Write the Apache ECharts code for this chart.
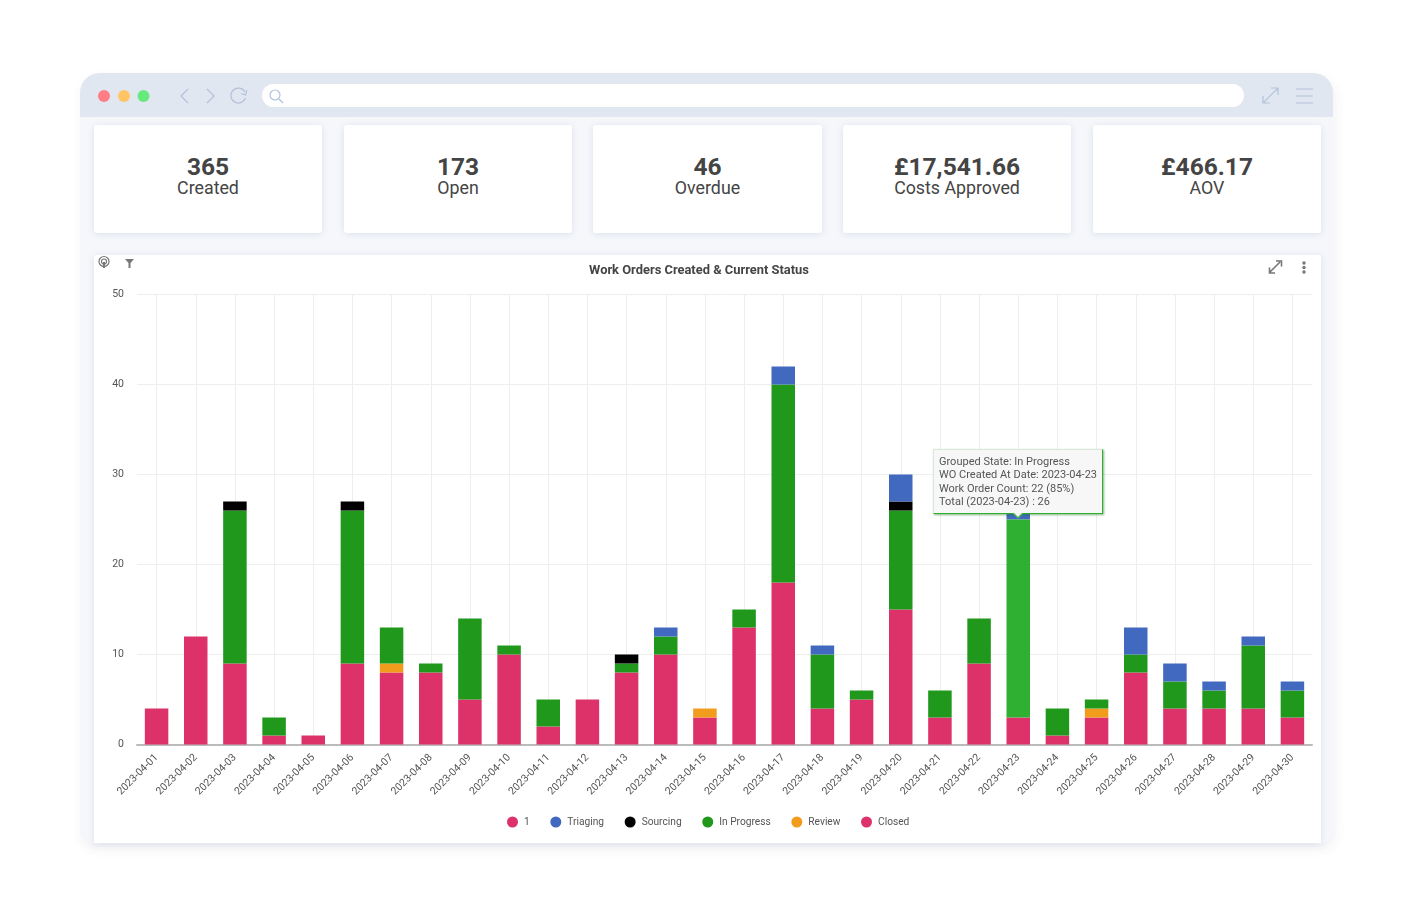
<!DOCTYPE html>
<html>
<head>
<meta charset="utf-8">
<title>Work Orders Created &amp; Current Status</title>
<script src="https://cdn.jsdelivr.net/npm/echarts@6/dist/echarts.min.js"></script>
<style>
html,body{margin:0;padding:0;background:#fff;width:1414px;height:916px;overflow:hidden;font-family:Roboto,sans-serif;}
.win{position:absolute;left:80px;top:73px;width:1253px;height:771px;background:#f5f7fb;border-radius:20px 20px 14px 14px;box-shadow:2px 5px 12px rgba(60,60,80,.07);}
.hdr{position:absolute;left:0;top:0;width:1253px;height:44px;background:#e1e7f1;border-radius:20px 20px 0 0;}
.url{position:absolute;left:182px;top:11px;width:982px;height:23px;background:#fff;border-radius:12px;}
.card{position:absolute;top:125px;height:108px;background:#fff;border-radius:3px;box-shadow:0 1px 7px rgba(110,120,160,.18);text-align:center;color:#444;}
.num{position:absolute;left:0;right:0;top:27px;font-size:24.500px;font-weight:700;line-height:30px;}
.lbl{position:absolute;left:0;right:0;top:52px;font-size:17.800px;line-height:22px;}
.panel{position:absolute;left:94px;top:255px;width:1227px;height:588px;background:#fff;border-radius:3px 3px 0 0;box-shadow:0 1px 7px rgba(110,120,160,.18);}
#chart{position:absolute;left:0;top:0;width:1227px;height:588px;}
svg.ic{position:absolute;overflow:visible;}
</style>
</head>
<body>
<div class="win"><div class="hdr"><div class="url"></div></div></div>
<svg class="ic" style="left:0;top:0" width="1414" height="120" fill="none" stroke="#b4c1da" stroke-width="1.2">
  <circle cx="104" cy="96" r="6" fill="#ff7e86" stroke="none"/>
  <circle cx="124" cy="96" r="6" fill="#ffc564" stroke="none"/>
  <circle cx="143.500" cy="96" r="6" fill="#66ea7e" stroke="none"/>
  <path d="M188 89l-7 7 7 7M207 89l7 7-7 7"/>
  <path d="M245 92a7.500 7.500 0 1 0 .5 6M247 90l-1.500 5-4.500-1.500"/>
  <circle cx="275" cy="95" r="5"/><path d="M279 99l4 4"/>
  <path d="M1263 103l15-15M1271 88h7v7M1263 96v7h7"/>
  <path d="M1296 89h17M1296 96h17M1296 103h17"/>
</svg>
<div id="cards"></div>
<div class="panel">
  <div id="chart"></div>
  <svg class="ic" style="left:0;top:0" width="1227" height="30" fill="none" stroke="#777" stroke-width="1.2">
    <circle cx="10" cy="6.500" r="5"/><circle cx="10" cy="6.500" r="2.500"/><path d="M10 7v6" stroke-width="2"/>
    <path d="M31 4h9l-3.500 4v5h-2V8z" fill="#777" stroke="none"/>
    <path d="M1176 17l10-10M1182 6h5.500v5.500M1175.500 12.500v5.500h5.500" stroke-width="1.600"/>
    <circle cx="1210" cy="8" r="1.700" fill="#777" stroke="none"/><circle cx="1210" cy="12.500" r="1.700" fill="#777" stroke="none"/><circle cx="1210" cy="17" r="1.700" fill="#777" stroke="none"/>
  </svg>
</div>
<script>
const kpiValues = ['365', '173', '46', '£17,541.66', '£466.17'];
const kpiLabels = ['Created', 'Open', 'Overdue', 'Costs Approved', 'AOV'];
const kpiLefts = [94, 344, 593, 843, 1093];

const dates = ['2023-04-01','2023-04-02','2023-04-03','2023-04-04','2023-04-05','2023-04-06','2023-04-07','2023-04-08','2023-04-09','2023-04-10','2023-04-11','2023-04-12','2023-04-13','2023-04-14','2023-04-15','2023-04-16','2023-04-17','2023-04-18','2023-04-19','2023-04-20','2023-04-21','2023-04-22','2023-04-23','2023-04-24','2023-04-25','2023-04-26','2023-04-27','2023-04-28','2023-04-29','2023-04-30'];
const closed     = [4,12,9,1,1,9,8,8,5,10,2,5,8,10,3,13,18,4,5,15,3,9,3,1,3,8,4,4,4,3];
const review     = [0,0,0,0,0,0,1,0,0,0,0,0,0,0,1,0,0,0,0,0,0,0,0,0,1,0,0,0,0,0];
const inProgress = [0,0,17,2,0,17,4,1,9,1,3,0,1,2,0,2,22,6,1,11,3,5,22,3,1,2,3,2,7,3];
const sourcing   = [0,0,1,0,0,1,0,0,0,0,0,0,1,0,0,0,0,0,0,1,0,0,0,0,0,0,0,0,0,0];
const triaging   = [0,0,0,0,0,0,0,0,0,0,0,0,0,1,0,0,2,1,0,3,0,0,1,0,0,3,2,1,1,1];
const unnamed    = [];
const legendOrder = ['1','Triaging','Sourcing','In Progress','Review','Closed'];
const yMax = 50, yStep = 10;
const tipDate = '2023-04-23';

const cardsEl = document.getElementById('cards');
kpiValues.forEach((v, i) => {
  const c = document.createElement('div');
  c.className = 'card';
  c.style.left = kpiLefts[i] + 'px';
  c.style.width = (i === 2 ? 229 : 228) + 'px';
  c.innerHTML = '<div class="num">' + v + '</div><div class="lbl">' + kpiLabels[i] + '</div>';
  cardsEl.appendChild(c);
});

const bar = (name, data, color, extra) => Object.assign({
  name, type: 'bar', stack: 'total', data: data.map(v => v === 0 ? null : v),
  barWidth: '60%', itemStyle: { color }, animation: false
}, extra || {});

const chart = echarts.init(document.getElementById('chart'), null, { renderer: 'canvas' });
const allSeries = [
  bar('Closed', closed, '#dd3269'),
  bar('Review', review, '#f29c1e'),
  bar('In Progress', inProgress, '#1f981c', { emphasis: { itemStyle: { color: '#2fb032' } } }),
  bar('Sourcing', sourcing, '#000000'),
  bar('Triaging', triaging, '#4269c0'),
  bar('1', unnamed, '#dd3269')
];
chart.setOption({
  animation: false,
  textStyle: { fontFamily: 'Roboto' },
  title: { text: 'Work Orders Created & Current Status', left: 600, textAlign: 'center', top: 4.500,
    textStyle: { fontFamily: 'Roboto', fontSize: 12.900, fontWeight: 700, color: '#444' } },
  legend: { data: legendOrder, bottom: 10.500, left: 408, icon: 'circle', itemWidth: 11, itemHeight: 11,
    itemGap: 20.600, textStyle: { fontFamily: 'Roboto', fontSize: 10.200, color: '#555', padding: [0, 0, 0, 1] } },
  grid: { left: 43, right: 9, top: 39.500, bottom: 98.500, containLabel: false },
  xAxis: { type: 'category', data: dates,
    axisLine: { lineStyle: { color: '#bbbbbb', width: 2 } },
    axisTick: { show: false, alignWithLabel: true },
    splitLine: { show: true, alignWithLabel: true, lineStyle: { color: '#eeeeee', width: 1 } },
    axisLabel: { rotate: 45, interval: 0, fontSize: 10.500, color: '#555', margin: 11.500, fontFamily: 'Roboto' } },
  yAxis: { type: 'value', min: 0, max: yMax, interval: yStep,
    axisLine: { show: false }, axisTick: { show: false },
    splitLine: { lineStyle: { color: '#eeeeee', width: 1 } },
    axisLabel: { fontSize: 10.500, color: '#555', margin: 13, fontFamily: 'Roboto' } },
  tooltip: { trigger: 'item', alwaysShowContent: true, position: 'top', transitionDuration: 0,
    backgroundColor: '#f7f7f7', borderColor: '#2fb032', borderWidth: 1, padding: [5, 5],
    textStyle: { fontFamily: 'Roboto', fontSize: 11, color: '#555', lineHeight: 13.300 },
    extraCssText: 'margin-top:4px;box-shadow:1px 1px 2px rgba(30,120,30,.55);border-radius:0;border-top-color:#d8e8d8;border-left-color:#d8e8d8;',
    formatter: p => {
      const i = p.dataIndex;
      const total = closed[i] + review[i] + inProgress[i] + sourcing[i] + triaging[i];
      return ['Grouped State: ' + p.seriesName,
        'WO Created At Date: ' + p.name,
        'Work Order Count: ' + p.value + ' (' + Math.round(p.value / total * 100) + '%)',
        'Total (' + p.name + ') : ' + total].join('<br>');
    } },
  series: allSeries
});
const tipIndex = dates.indexOf(tipDate);
chart.dispatchAction({ type: 'highlight', seriesIndex: 2, dataIndex: tipIndex });
chart.dispatchAction({ type: 'showTip', seriesIndex: 2, dataIndex: tipIndex });
</script>
</body>
</html>
